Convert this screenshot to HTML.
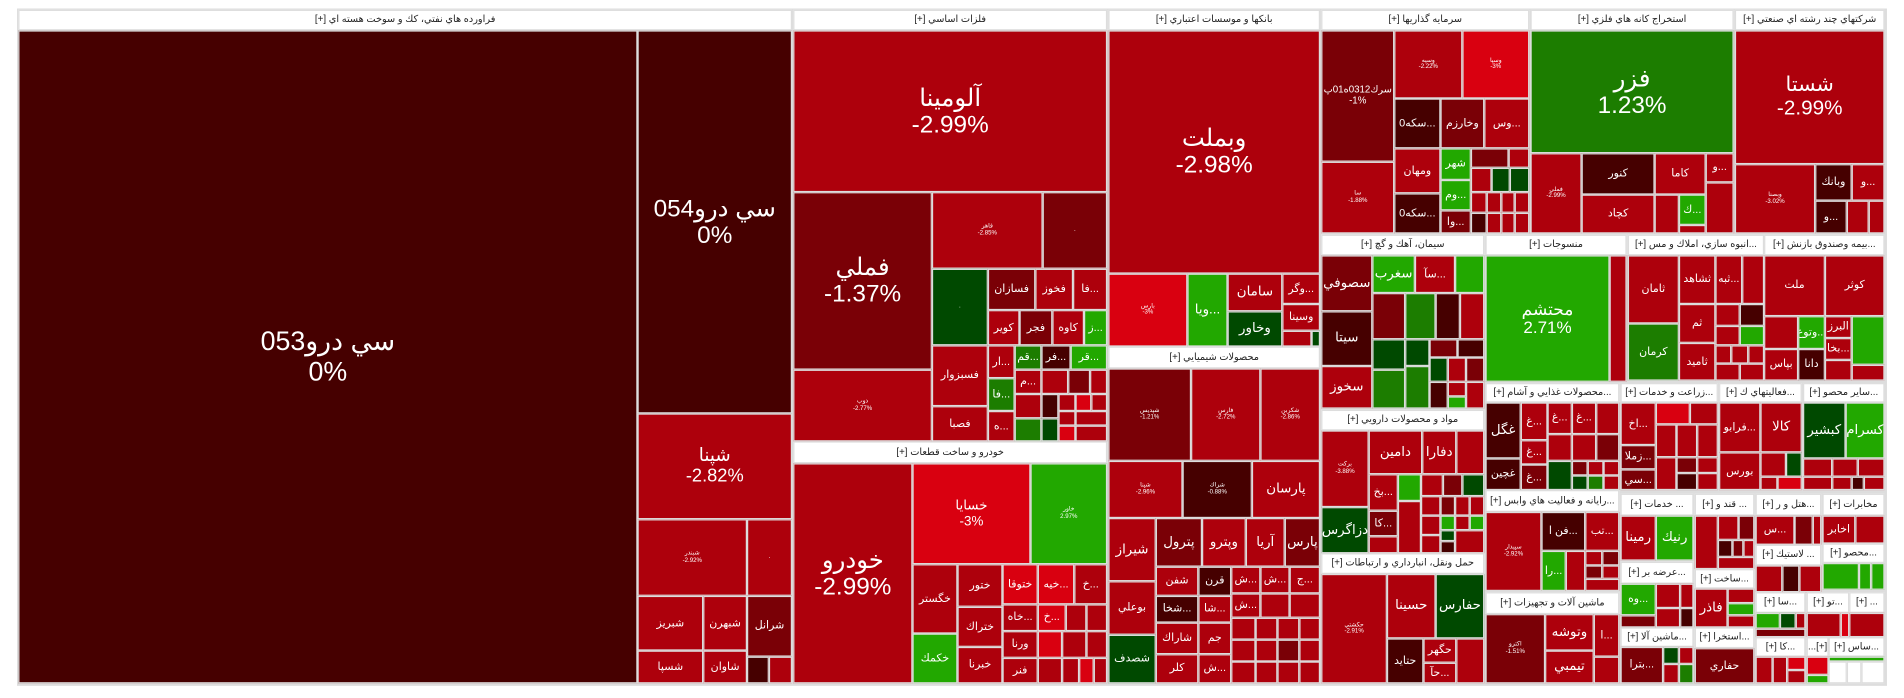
<!DOCTYPE html>
<html><head><meta charset="utf-8">
<style>
html,body{margin:0;padding:0;background:#fff;width:1904px;height:698px;overflow:hidden}
#w{position:absolute;left:0;top:0;width:1565px;height:574px;transform-origin:0 0;transform:scale(1.21661,1.21603)}
#f{position:absolute;left:14px;top:7px;width:1537px;height:557px;background:#ddd}
.x{position:absolute;box-sizing:border-box;border:1px solid #ddd;color:#fff;display:flex;align-items:center;justify-content:center;text-align:center;overflow:hidden;font-family:"Liberation Sans","DejaVu Sans",sans-serif;line-height:1.1;white-space:nowrap;font-size:9px}
.a{background:#460000}.b{background:#7a0006}.c{background:#ad000c}.d{background:#d90010}
.g{background:#22a800}.h{background:#1c7d00}.k{background:#004900}
.w{background:#fff;color:#222;font-size:8px;direction:rtl}
.s{font-size:5px}.m{font-size:11px}.L{font-size:20px}
</style></head><body><div id="w"><div id="f"></div>

<div class="x w" style="left:15px;top:8px;width:636px;height:17px">فراورده هاي نفتي، كك و سوخت هسته اي [+]</div>
<div class="x a" style="left:15px;top:25px;width:509px;height:537px;font-size:22px">سي درو053<br>0%</div>
<div class="x a L" style="left:524px;top:25px;width:127px;height:315px">سي درو054<br>0%</div>
<div class="x c" style="left:524px;top:340px;width:127px;height:87px;font-size:15px">شپنا<br>-2.82%</div>
<div class="x c s" style="left:524px;top:427px;width:90px;height:63px">شبندر<br>-2.92%</div>
<div class="x c s" style="left:614px;top:427px;width:37px;height:63px">.</div>
<div class="x c" style="left:524px;top:490px;width:54px;height:45px">شبريز</div>
<div class="x c" style="left:578px;top:490px;width:36px;height:45px">شبهرن</div>
<div class="x b" style="left:614px;top:490px;width:37px;height:50px">شرانل</div>
<div class="x c" style="left:524px;top:535px;width:54px;height:27px">شسپا</div>
<div class="x c" style="left:578px;top:535px;width:36px;height:27px">شاوان</div>
<div class="x a" style="left:614px;top:540px;width:18px;height:22px"></div>
<div class="x c" style="left:632px;top:540px;width:19px;height:22px"></div>

<div class="x w" style="left:652px;top:8px;width:258px;height:17px">فلزات اساسي [+]</div>
<div class="x c L" style="left:652px;top:25px;width:258px;height:133px">آلومينا<br>-2.99%</div>
<div class="x b L" style="left:652px;top:158px;width:114px;height:146px">فملي<br>-1.37%</div>
<div class="x c s" style="left:652px;top:304px;width:114px;height:59px">ذوب<br>-2.77%</div>
<div class="x c s" style="left:766px;top:158px;width:91px;height:63px">فاهر<br>-2.85%</div>
<div class="x b s" style="left:857px;top:158px;width:53px;height:63px">.</div>
<div class="x k s" style="left:766px;top:221px;width:46px;height:63px">.</div>
<div class="x b" style="left:812px;top:221px;width:39px;height:34px">فسازان</div>
<div class="x c" style="left:851px;top:221px;width:31px;height:34px">فخوز</div>
<div class="x c" style="left:882px;top:221px;width:28px;height:34px">فا...</div>
<div class="x c" style="left:812px;top:255px;width:26px;height:29px">كوير</div>
<div class="x b" style="left:838px;top:255px;width:27px;height:29px">فجر</div>
<div class="x c" style="left:865px;top:255px;width:26px;height:29px">كاوه</div>
<div class="x g" style="left:891px;top:255px;width:19px;height:29px">ز...</div>
<div class="x c" style="left:766px;top:284px;width:46px;height:50px">فسبزوار</div>
<div class="x c" style="left:766px;top:334px;width:46px;height:29px">فصبا</div>
<div class="x c" style="left:812px;top:284px;width:22px;height:27px">ار...</div>
<div class="x h" style="left:812px;top:311px;width:22px;height:27px">فا...</div>
<div class="x c" style="left:812px;top:338px;width:22px;height:25px">ه...</div>
<div class="x h" style="left:834px;top:284px;width:22px;height:20px">قم...</div>
<div class="x a" style="left:856px;top:284px;width:24px;height:20px">فر...</div>
<div class="x g" style="left:880px;top:284px;width:30px;height:20px">قر...</div>
<div class="x c" style="left:834px;top:304px;width:22px;height:20px">م...</div>
<div class="x c" style="left:856px;top:304px;width:22px;height:20px"></div>
<div class="x b" style="left:878px;top:304px;width:18px;height:20px"></div>
<div class="x c" style="left:896px;top:304px;width:14px;height:20px"></div>
<div class="x c" style="left:834px;top:324px;width:22px;height:20px"></div>
<div class="x h" style="left:834px;top:344px;width:22px;height:19px"></div>
<div class="x a" style="left:856px;top:324px;width:14px;height:20px"></div>
<div class="x k" style="left:856px;top:344px;width:14px;height:19px"></div>
<div class="x c" style="left:870px;top:324px;width:14px;height:14px"></div>
<div class="x c" style="left:870px;top:338px;width:14px;height:12px"></div>
<div class="x d" style="left:870px;top:350px;width:14px;height:13px"></div>
<div class="x d" style="left:884px;top:324px;width:13px;height:14px"></div>
<div class="x c" style="left:897px;top:324px;width:13px;height:14px"></div>
<div class="x c" style="left:884px;top:338px;width:26px;height:12px"></div>
<div class="x c" style="left:884px;top:350px;width:26px;height:13px"></div>

<div class="x w" style="left:652px;top:363px;width:258px;height:18px">خودرو و ساخت قطعات [+]</div>
<div class="x c L" style="left:652px;top:381px;width:98px;height:181px">خودرو<br>-2.99%</div>
<div class="x d m" style="left:750px;top:381px;width:97px;height:83px">خسايا<br>-3%</div>
<div class="x g s" style="left:847px;top:381px;width:63px;height:83px">خاور<br>2.97%</div>
<div class="x c" style="left:750px;top:464px;width:37px;height:57px">خگستر</div>
<div class="x g" style="left:750px;top:521px;width:37px;height:41px">خكمك</div>
<div class="x c" style="left:787px;top:464px;width:37px;height:35px">ختور</div>
<div class="x c" style="left:787px;top:499px;width:37px;height:33px">ختراك</div>
<div class="x c" style="left:787px;top:532px;width:37px;height:30px">خبرنا</div>
<div class="x d" style="left:824px;top:464px;width:29px;height:33px">ختوقا</div>
<div class="x c" style="left:824px;top:497px;width:29px;height:22px">خاه...</div>
<div class="x c" style="left:824px;top:519px;width:29px;height:22px">ورنا</div>
<div class="x c" style="left:824px;top:541px;width:29px;height:21px">فنر</div>
<div class="x d" style="left:853px;top:464px;width:30px;height:33px">خيه...</div>
<div class="x c" style="left:883px;top:464px;width:27px;height:33px">خ...</div>
<div class="x d" style="left:853px;top:497px;width:23px;height:22px">خ...</div>
<div class="x c" style="left:876px;top:497px;width:17px;height:22px"></div>
<div class="x c" style="left:893px;top:497px;width:17px;height:22px"></div>
<div class="x d" style="left:853px;top:519px;width:20px;height:22px"></div>
<div class="x c" style="left:873px;top:519px;width:20px;height:22px"></div>
<div class="x c" style="left:893px;top:519px;width:17px;height:22px"></div>
<div class="x c" style="left:853px;top:541px;width:20px;height:21px"></div>
<div class="x c" style="left:873px;top:541px;width:14px;height:21px"></div>
<div class="x d" style="left:887px;top:541px;width:12px;height:21px"></div>
<div class="x c" style="left:899px;top:541px;width:11px;height:21px"></div>

<div class="x w" style="left:911px;top:8px;width:174px;height:17px">بانكها و موسسات اعتباري [+]</div>
<div class="x c L" style="left:911px;top:25px;width:174px;height:200px">وبملت<br>-2.98%</div>
<div class="x d s" style="left:911px;top:225px;width:65px;height:60px">بارس<br>-3%</div>
<div class="x g m" style="left:976px;top:225px;width:33px;height:60px">ويا...</div>
<div class="x c m" style="left:1009px;top:225px;width:45px;height:31px">سامان</div>
<div class="x k m" style="left:1009px;top:256px;width:45px;height:29px">وخاور</div>
<div class="x c" style="left:1054px;top:225px;width:31px;height:25px">وگر...</div>
<div class="x c" style="left:1054px;top:250px;width:31px;height:22px">وسينا</div>
<div class="x c" style="left:1054px;top:272px;width:24px;height:13px"></div>
<div class="x k" style="left:1078px;top:272px;width:7px;height:13px"></div>

<div class="x w" style="left:911px;top:285px;width:174px;height:18px">محصولات شيميايي [+]</div>
<div class="x b s" style="left:911px;top:303px;width:68px;height:76px">شپديس<br>-1.21%</div>
<div class="x c s" style="left:979px;top:303px;width:57px;height:76px">فارس<br>-2.72%</div>
<div class="x c s" style="left:1036px;top:303px;width:49px;height:76px">شكربن<br>-2.86%</div>
<div class="x c s" style="left:911px;top:379px;width:61px;height:47px">شپنا<br>-2.96%</div>
<div class="x a s" style="left:972px;top:379px;width:57px;height:47px">شراك<br>-0.88%</div>
<div class="x c m" style="left:1029px;top:379px;width:56px;height:47px">پارسان</div>
<div class="x c m" style="left:911px;top:426px;width:39px;height:52px">شيراز</div>
<div class="x b m" style="left:950px;top:426px;width:38px;height:40px">پترول</div>
<div class="x c m" style="left:988px;top:426px;width:36px;height:40px">وپترو</div>
<div class="x c m" style="left:1024px;top:426px;width:32px;height:40px">آريا</div>
<div class="x b m" style="left:1056px;top:426px;width:29px;height:40px">پارس</div>
<div class="x c" style="left:911px;top:478px;width:39px;height:44px">بوعلي</div>
<div class="x k" style="left:911px;top:522px;width:39px;height:40px">شصدف</div>
<div class="x c" style="left:950px;top:466px;width:35px;height:24px">شفن</div>
<div class="x a" style="left:950px;top:490px;width:35px;height:22px">شخا...</div>
<div class="x c" style="left:950px;top:512px;width:35px;height:26px">شاراك</div>
<div class="x c" style="left:950px;top:538px;width:35px;height:24px">كلر</div>
<div class="x a" style="left:985px;top:466px;width:27px;height:24px">قرن</div>
<div class="x c" style="left:985px;top:490px;width:27px;height:22px">شا...</div>
<div class="x c" style="left:985px;top:512px;width:27px;height:26px">جم</div>
<div class="x c" style="left:985px;top:538px;width:27px;height:24px">ش...</div>
<div class="x c" style="left:1012px;top:466px;width:24px;height:22px">ش...</div>
<div class="x c" style="left:1036px;top:466px;width:24px;height:22px">ش...</div>
<div class="x c" style="left:1060px;top:466px;width:25px;height:22px">ج...</div>
<div class="x c" style="left:1012px;top:488px;width:24px;height:20px">ش...</div>
<div class="x c" style="left:1036px;top:488px;width:24px;height:20px"></div>
<div class="x c" style="left:1060px;top:488px;width:25px;height:20px"></div>
<div class="x c" style="left:1012px;top:508px;width:20px;height:18px"></div>
<div class="x c" style="left:1032px;top:508px;width:18px;height:18px"></div>
<div class="x c" style="left:1050px;top:508px;width:18px;height:18px"></div>
<div class="x c" style="left:1068px;top:508px;width:17px;height:18px"></div>
<div class="x c" style="left:1012px;top:526px;width:20px;height:18px"></div>
<div class="x c" style="left:1032px;top:526px;width:18px;height:18px"></div>
<div class="x b" style="left:1050px;top:526px;width:18px;height:18px"></div>
<div class="x c" style="left:1068px;top:526px;width:17px;height:18px"></div>
<div class="x c" style="left:1012px;top:544px;width:20px;height:18px"></div>
<div class="x c" style="left:1032px;top:544px;width:18px;height:18px"></div>
<div class="x c" style="left:1050px;top:544px;width:18px;height:18px"></div>
<div class="x c" style="left:1068px;top:544px;width:17px;height:18px"></div>

<div class="x w" style="left:1086px;top:8px;width:171px;height:17px">سرمايه گذاريها [+]</div>
<div class="x b" style="left:1086px;top:25px;width:60px;height:108px;font-size:8px">سرك0312ه01پ<br>-1%</div>
<div class="x c s" style="left:1086px;top:133px;width:60px;height:59px">سا<br>-1.88%</div>
<div class="x c s" style="left:1146px;top:25px;width:56px;height:56px">وسپه<br>-2.22%</div>
<div class="x d s" style="left:1202px;top:25px;width:55px;height:56px">وسپا<br>-3%</div>
<div class="x a" style="left:1146px;top:81px;width:38px;height:41px">سكه0...</div>
<div class="x b" style="left:1184px;top:81px;width:36px;height:41px">وخارزم</div>
<div class="x c" style="left:1220px;top:81px;width:37px;height:41px">وس...</div>
<div class="x c" style="left:1146px;top:122px;width:38px;height:37px">ومهان</div>
<div class="x a" style="left:1146px;top:159px;width:38px;height:33px">سكه0...</div>
<div class="x g" style="left:1184px;top:122px;width:25px;height:26px">شهر</div>
<div class="x g" style="left:1184px;top:148px;width:25px;height:25px">وم...</div>
<div class="x b" style="left:1184px;top:173px;width:25px;height:19px">وا...</div>
<div class="x b" style="left:1209px;top:122px;width:31px;height:16px"></div>
<div class="x c" style="left:1240px;top:122px;width:17px;height:16px"></div>
<div class="x c" style="left:1209px;top:138px;width:17px;height:20px"></div>
<div class="x k" style="left:1226px;top:138px;width:15px;height:20px"></div>
<div class="x k" style="left:1241px;top:138px;width:16px;height:20px"></div>
<div class="x c" style="left:1209px;top:158px;width:13px;height:17px"></div>
<div class="x c" style="left:1222px;top:158px;width:12px;height:17px"></div>
<div class="x c" style="left:1234px;top:158px;width:11px;height:17px"></div>
<div class="x c" style="left:1245px;top:158px;width:12px;height:17px"></div>
<div class="x a" style="left:1209px;top:175px;width:13px;height:17px"></div>
<div class="x c" style="left:1222px;top:175px;width:12px;height:17px"></div>
<div class="x c" style="left:1234px;top:175px;width:11px;height:17px"></div>
<div class="x c" style="left:1245px;top:175px;width:12px;height:17px"></div>

<div class="x w" style="left:1258px;top:8px;width:167px;height:17px">استخراج كانه هاي فلزي [+]</div>
<div class="x h L" style="left:1258px;top:25px;width:167px;height:101px">فزر<br>1.23%</div>
<div class="x c s" style="left:1258px;top:126px;width:42px;height:66px">فملي<br>-2.99%</div>
<div class="x a" style="left:1300px;top:126px;width:60px;height:34px">كنور</div>
<div class="x c" style="left:1300px;top:160px;width:60px;height:32px">كچاد</div>
<div class="x c" style="left:1360px;top:126px;width:42px;height:34px">كاما</div>
<div class="x c" style="left:1402px;top:126px;width:23px;height:24px">و...</div>
<div class="x c" style="left:1360px;top:160px;width:20px;height:32px"></div>
<div class="x g" style="left:1380px;top:160px;width:22px;height:25px">ك...</div>
<div class="x c" style="left:1380px;top:185px;width:22px;height:7px"></div>
<div class="x c" style="left:1402px;top:150px;width:23px;height:42px"></div>

<div class="x w" style="left:1426px;top:8px;width:123px;height:17px">شركتهاي چند رشته اي صنعتي [+]</div>
<div class="x c" style="left:1426px;top:25px;width:123px;height:110px;font-size:17px">شستا<br>-2.99%</div>
<div class="x c s" style="left:1426px;top:135px;width:66px;height:57px">وبصنا<br>-3.02%</div>
<div class="x a" style="left:1492px;top:135px;width:30px;height:30px">وبانك</div>
<div class="x c" style="left:1522px;top:135px;width:27px;height:30px">و...</div>
<div class="x a" style="left:1492px;top:165px;width:26px;height:27px">و...</div>
<div class="x c" style="left:1518px;top:165px;width:18px;height:27px"></div>
<div class="x c" style="left:1536px;top:165px;width:13px;height:27px"></div>

<div class="x w" style="left:1086px;top:193px;width:134px;height:17px">سيمان، آهك و گچ [+]</div>
<div class="x b m" style="left:1086px;top:210px;width:42px;height:46px">سصوفي</div>
<div class="x a m" style="left:1086px;top:256px;width:42px;height:45px">سيتا</div>
<div class="x c m" style="left:1086px;top:301px;width:42px;height:35px">سخوز</div>
<div class="x g m" style="left:1128px;top:210px;width:35px;height:31px">سغرب</div>
<div class="x c" style="left:1163px;top:210px;width:33px;height:31px">سآ...</div>
<div class="x g" style="left:1196px;top:210px;width:24px;height:31px"></div>
<div class="x b" style="left:1128px;top:241px;width:27px;height:38px"></div>
<div class="x h" style="left:1155px;top:241px;width:25px;height:38px"></div>
<div class="x a" style="left:1180px;top:241px;width:20px;height:38px"></div>
<div class="x c" style="left:1200px;top:241px;width:20px;height:38px"></div>
<div class="x k" style="left:1128px;top:279px;width:27px;height:25px"></div>
<div class="x h" style="left:1128px;top:304px;width:27px;height:32px"></div>
<div class="x k" style="left:1155px;top:279px;width:20px;height:22px"></div>
<div class="x h" style="left:1155px;top:301px;width:20px;height:35px"></div>
<div class="x b" style="left:1175px;top:279px;width:23px;height:15px"></div>
<div class="x a" style="left:1198px;top:279px;width:22px;height:15px"></div>
<div class="x k" style="left:1175px;top:294px;width:15px;height:20px"></div>
<div class="x c" style="left:1190px;top:294px;width:15px;height:20px"></div>
<div class="x b" style="left:1205px;top:294px;width:15px;height:20px"></div>
<div class="x a" style="left:1175px;top:314px;width:15px;height:22px"></div>
<div class="x c" style="left:1190px;top:314px;width:15px;height:12px"></div>
<div class="x g" style="left:1190px;top:326px;width:15px;height:10px"></div>
<div class="x c" style="left:1205px;top:314px;width:15px;height:22px"></div>

<div class="x w" style="left:1086px;top:337px;width:134px;height:17px">مواد و محصولات دارويي [+]</div>
<div class="x c s" style="left:1086px;top:354px;width:39px;height:63px">بركت<br>-3.88%</div>
<div class="x k m" style="left:1086px;top:417px;width:39px;height:38px">دزاگرس</div>
<div class="x c m" style="left:1125px;top:354px;width:44px;height:36px">دامين</div>
<div class="x c m" style="left:1169px;top:354px;width:28px;height:36px">دفارا</div>
<div class="x c" style="left:1197px;top:354px;width:23px;height:36px"></div>
<div class="x c" style="left:1125px;top:390px;width:24px;height:30px">بخ...</div>
<div class="x g" style="left:1149px;top:390px;width:19px;height:22px"></div>
<div class="x c" style="left:1149px;top:412px;width:19px;height:43px"></div>
<div class="x b" style="left:1125px;top:420px;width:24px;height:21px">كا...</div>
<div class="x c" style="left:1125px;top:441px;width:24px;height:14px"></div>
<div class="x c" style="left:1168px;top:390px;width:18px;height:18px"></div>
<div class="x b" style="left:1186px;top:390px;width:16px;height:18px"></div>
<div class="x k" style="left:1202px;top:390px;width:18px;height:18px"></div>
<div class="x c" style="left:1168px;top:408px;width:16px;height:16px"></div>
<div class="x b" style="left:1184px;top:408px;width:12px;height:16px"></div>
<div class="x c" style="left:1196px;top:408px;width:12px;height:16px"></div>
<div class="x c" style="left:1208px;top:408px;width:12px;height:16px"></div>
<div class="x c" style="left:1168px;top:424px;width:16px;height:16px"></div>
<div class="x g" style="left:1184px;top:424px;width:12px;height:12px"></div>
<div class="x k" style="left:1184px;top:436px;width:12px;height:9px"></div>
<div class="x c" style="left:1196px;top:424px;width:12px;height:12px"></div>
<div class="x g" style="left:1208px;top:424px;width:12px;height:12px"></div>
<div class="x c" style="left:1168px;top:440px;width:16px;height:15px"></div>
<div class="x a" style="left:1184px;top:445px;width:12px;height:10px"></div>
<div class="x c" style="left:1196px;top:436px;width:24px;height:19px"></div>

<div class="x w" style="left:1086px;top:455px;width:134px;height:17px">حمل ونقل، انبارداري و ارتباطات [+]</div>
<div class="x c s" style="left:1086px;top:472px;width:54px;height:90px">حكشتي<br>-2.91%</div>
<div class="x c m" style="left:1140px;top:472px;width:40px;height:53px">حسينا</div>
<div class="x k m" style="left:1180px;top:472px;width:40px;height:53px">حفارس</div>
<div class="x a" style="left:1140px;top:525px;width:30px;height:37px">حتايد</div>
<div class="x c" style="left:1170px;top:525px;width:27px;height:20px">حگهر</div>
<div class="x c" style="left:1170px;top:545px;width:27px;height:17px">حآ...</div>
<div class="x c" style="left:1197px;top:525px;width:23px;height:37px"></div>

<div class="x w" style="left:1221px;top:193px;width:116px;height:17px">منسوجات [+]</div>
<div class="x g" style="left:1221px;top:210px;width:102px;height:104px;font-size:14px">محتشم<br>2.71%</div>
<div class="x c" style="left:1323px;top:210px;width:14px;height:104px"></div>

<div class="x w" style="left:1221px;top:315px;width:110px;height:16px">...محصولات غذايي و آشام [+]</div>
<div class="x a m" style="left:1221px;top:331px;width:29px;height:46px">غگل</div>
<div class="x a" style="left:1221px;top:377px;width:29px;height:26px">غچين</div>
<div class="x c" style="left:1250px;top:331px;width:22px;height:31px">غ...</div>
<div class="x c" style="left:1250px;top:362px;width:22px;height:20px">غ...</div>
<div class="x b" style="left:1250px;top:382px;width:22px;height:21px">غ...</div>
<div class="x c" style="left:1272px;top:331px;width:20px;height:26px">غ...</div>
<div class="x c" style="left:1292px;top:331px;width:20px;height:26px">غ...</div>
<div class="x c" style="left:1312px;top:331px;width:19px;height:26px"></div>
<div class="x c" style="left:1272px;top:357px;width:20px;height:22px"></div>
<div class="x c" style="left:1292px;top:357px;width:20px;height:22px"></div>
<div class="x b" style="left:1312px;top:357px;width:19px;height:22px"></div>
<div class="x k" style="left:1272px;top:379px;width:20px;height:24px"></div>
<div class="x b" style="left:1292px;top:379px;width:13px;height:12px"></div>
<div class="x c" style="left:1305px;top:379px;width:13px;height:12px"></div>
<div class="x c" style="left:1318px;top:379px;width:13px;height:12px"></div>
<div class="x k" style="left:1292px;top:391px;width:13px;height:12px"></div>
<div class="x h" style="left:1305px;top:391px;width:13px;height:12px"></div>
<div class="x c" style="left:1318px;top:391px;width:13px;height:12px"></div>

<div class="x w" style="left:1221px;top:403px;width:110px;height:18px">...رايانه و فعاليت هاي وابس [+]</div>
<div class="x c s" style="left:1221px;top:421px;width:46px;height:65px">سپيدار<br>-2.92%</div>
<div class="x a" style="left:1267px;top:421px;width:36px;height:32px">فن ا...</div>
<div class="x c" style="left:1303px;top:421px;width:28px;height:32px">تب...</div>
<div class="x g" style="left:1267px;top:453px;width:20px;height:33px">را...</div>
<div class="x c" style="left:1287px;top:453px;width:16px;height:33px"></div>
<div class="x c" style="left:1303px;top:453px;width:14px;height:12px"></div>
<div class="x b" style="left:1317px;top:453px;width:14px;height:12px"></div>
<div class="x b" style="left:1303px;top:465px;width:14px;height:11px"></div>
<div class="x c" style="left:1317px;top:465px;width:14px;height:11px"></div>
<div class="x c" style="left:1303px;top:476px;width:28px;height:10px"></div>

<div class="x w" style="left:1221px;top:487px;width:110px;height:18px">ماشين آلات و تجهيزات [+]</div>
<div class="x b s" style="left:1221px;top:505px;width:49px;height:57px">اكترو<br>-1.51%</div>
<div class="x c m" style="left:1270px;top:505px;width:40px;height:30px">وتوشه</div>
<div class="x c m" style="left:1270px;top:535px;width:40px;height:27px">تيمبي</div>
<div class="x c" style="left:1310px;top:505px;width:21px;height:35px">ا...</div>
<div class="x c" style="left:1310px;top:540px;width:21px;height:22px"></div>

<div class="x w" style="left:1338px;top:193px;width:112px;height:17px">...انبوه سازي، املاك و مس [+]</div>
<div class="x c" style="left:1338px;top:210px;width:42px;height:56px">ثامان</div>
<div class="x h" style="left:1338px;top:266px;width:42px;height:47px">كرمان</div>
<div class="x c" style="left:1380px;top:210px;width:30px;height:40px">ثشاهد</div>
<div class="x c" style="left:1410px;top:210px;width:22px;height:40px">ثبه...</div>
<div class="x c" style="left:1432px;top:210px;width:18px;height:40px"></div>
<div class="x c" style="left:1380px;top:250px;width:30px;height:32px">ثم</div>
<div class="x c" style="left:1380px;top:282px;width:30px;height:31px">ثاميد</div>
<div class="x c" style="left:1410px;top:250px;width:20px;height:18px"></div>
<div class="x a" style="left:1430px;top:250px;width:20px;height:18px"></div>
<div class="x c" style="left:1410px;top:268px;width:20px;height:16px"></div>
<div class="x g" style="left:1430px;top:268px;width:20px;height:16px"></div>
<div class="x c" style="left:1410px;top:284px;width:13px;height:15px"></div>
<div class="x c" style="left:1423px;top:284px;width:14px;height:15px"></div>
<div class="x c" style="left:1437px;top:284px;width:13px;height:15px"></div>
<div class="x c" style="left:1410px;top:299px;width:20px;height:14px"></div>
<div class="x c" style="left:1430px;top:299px;width:20px;height:14px"></div>

<div class="x w" style="left:1450px;top:193px;width:99px;height:17px">...بيمه وصندوق بازنش [+]</div>
<div class="x c" style="left:1450px;top:210px;width:50px;height:50px">ملت</div>
<div class="x c" style="left:1500px;top:210px;width:49px;height:50px">كوثر</div>
<div class="x c" style="left:1450px;top:260px;width:28px;height:27px"></div>
<div class="x g" style="left:1478px;top:260px;width:22px;height:27px">وتوع...</div>
<div class="x c" style="left:1500px;top:260px;width:22px;height:18px">البرز</div>
<div class="x c" style="left:1500px;top:278px;width:22px;height:18px">بخا...</div>
<div class="x g" style="left:1522px;top:260px;width:27px;height:40px"></div>
<div class="x c" style="left:1450px;top:287px;width:28px;height:26px">بپاس</div>
<div class="x a" style="left:1478px;top:287px;width:22px;height:26px">دانا</div>
<div class="x c" style="left:1500px;top:296px;width:22px;height:17px"></div>
<div class="x c" style="left:1522px;top:300px;width:27px;height:13px"></div>

<div class="x w" style="left:1332px;top:315px;width:80px;height:16px">...زراعت و خدمات [+]</div>
<div class="x c" style="left:1332px;top:331px;width:29px;height:35px">اخ...</div>
<div class="x b" style="left:1332px;top:366px;width:29px;height:20px">زملا...</div>
<div class="x b" style="left:1332px;top:386px;width:29px;height:17px">سي...</div>
<div class="x d" style="left:1361px;top:331px;width:28px;height:18px"></div>
<div class="x c" style="left:1389px;top:331px;width:23px;height:18px"></div>
<div class="x c" style="left:1361px;top:349px;width:17px;height:27px"></div>
<div class="x c" style="left:1378px;top:349px;width:17px;height:27px"></div>
<div class="x c" style="left:1395px;top:349px;width:17px;height:27px"></div>
<div class="x c" style="left:1361px;top:376px;width:17px;height:27px"></div>
<div class="x b" style="left:1378px;top:376px;width:17px;height:13px"></div>
<div class="x c" style="left:1395px;top:376px;width:17px;height:13px"></div>
<div class="x a" style="left:1378px;top:389px;width:17px;height:14px"></div>
<div class="x c" style="left:1395px;top:389px;width:17px;height:14px"></div>

<div class="x w" style="left:1413px;top:315px;width:68px;height:16px">...فعاليتهاي ك [+]</div>
<div class="x c" style="left:1413px;top:331px;width:34px;height:41px">فرابو...</div>
<div class="x c m" style="left:1447px;top:331px;width:34px;height:41px">كالا</div>
<div class="x c" style="left:1413px;top:372px;width:34px;height:31px">بورس</div>
<div class="x c" style="left:1447px;top:372px;width:21px;height:20px"></div>
<div class="x k" style="left:1468px;top:372px;width:13px;height:20px"></div>
<div class="x c" style="left:1447px;top:392px;width:14px;height:11px"></div>
<div class="x d" style="left:1461px;top:392px;width:20px;height:11px"></div>

<div class="x w" style="left:1482px;top:315px;width:67px;height:16px">...ساير محصو [+]</div>
<div class="x k m" style="left:1482px;top:331px;width:35px;height:46px">كبشير</div>
<div class="x g m" style="left:1517px;top:331px;width:32px;height:46px">كسرام</div>
<div class="x c" style="left:1482px;top:377px;width:24px;height:15px"></div>
<div class="x c" style="left:1506px;top:377px;width:21px;height:15px"></div>
<div class="x c" style="left:1527px;top:377px;width:22px;height:15px"></div>
<div class="x c" style="left:1482px;top:392px;width:24px;height:11px"></div>
<div class="x c" style="left:1506px;top:392px;width:16px;height:11px"></div>
<div class="x a" style="left:1522px;top:392px;width:10px;height:11px"></div>
<div class="x c" style="left:1532px;top:392px;width:17px;height:11px"></div>

<div class="x w" style="left:1332px;top:406px;width:60px;height:18px">... خدمات [+]</div>
<div class="x c m" style="left:1332px;top:424px;width:29px;height:37px">رمينا</div>
<div class="x g m" style="left:1361px;top:424px;width:31px;height:37px">رنيك</div>
<div class="x w" style="left:1332px;top:462px;width:60px;height:18px">...عرضه بر [+]</div>
<div class="x g" style="left:1332px;top:480px;width:29px;height:26px">وه...</div>
<div class="x b" style="left:1332px;top:506px;width:29px;height:10px"></div>
<div class="x c" style="left:1361px;top:480px;width:20px;height:20px"></div>
<div class="x c" style="left:1381px;top:480px;width:11px;height:20px"></div>
<div class="x c" style="left:1361px;top:500px;width:20px;height:16px"></div>
<div class="x a" style="left:1381px;top:500px;width:11px;height:16px"></div>
<div class="x w" style="left:1332px;top:516px;width:60px;height:16px">...ماشين آلا [+]</div>
<div class="x b" style="left:1332px;top:532px;width:35px;height:30px">بترا...</div>
<div class="x k" style="left:1367px;top:532px;width:13px;height:14px"></div>
<div class="x c" style="left:1380px;top:532px;width:12px;height:14px"></div>
<div class="x c" style="left:1367px;top:546px;width:13px;height:16px"></div>
<div class="x h" style="left:1380px;top:546px;width:12px;height:16px"></div>

<div class="x w" style="left:1393px;top:406px;width:49px;height:18px">... قند و [+]</div>
<div class="x c" style="left:1393px;top:424px;width:19px;height:44px"></div>
<div class="x c" style="left:1412px;top:424px;width:17px;height:20px"></div>
<div class="x b" style="left:1429px;top:424px;width:13px;height:20px"></div>
<div class="x a" style="left:1412px;top:444px;width:12px;height:14px"></div>
<div class="x b" style="left:1424px;top:444px;width:9px;height:14px"></div>
<div class="x c" style="left:1433px;top:444px;width:9px;height:14px"></div>
<div class="x c" style="left:1412px;top:458px;width:30px;height:10px"></div>
<div class="x w" style="left:1393px;top:468px;width:49px;height:16px">...ساخت [+]</div>
<div class="x c m" style="left:1393px;top:484px;width:27px;height:32px">فاذر</div>
<div class="x c" style="left:1420px;top:484px;width:22px;height:12px"></div>
<div class="x g" style="left:1420px;top:496px;width:22px;height:10px"></div>
<div class="x c" style="left:1420px;top:506px;width:22px;height:10px"></div>
<div class="x w" style="left:1393px;top:516px;width:49px;height:17px">...استخرا [+]</div>
<div class="x b" style="left:1393px;top:533px;width:49px;height:29px">حفاري</div>

<div class="x w" style="left:1443px;top:406px;width:54px;height:18px">...هتل و ر [+]</div>
<div class="x c" style="left:1443px;top:424px;width:32px;height:24px">س...</div>
<div class="x b" style="left:1475px;top:424px;width:15px;height:24px"></div>
<div class="x c" style="left:1490px;top:424px;width:7px;height:24px"></div>
<div class="x w" style="left:1443px;top:448px;width:54px;height:17px">... لاستيك [+]</div>
<div class="x c" style="left:1443px;top:465px;width:22px;height:22px"></div>
<div class="x a" style="left:1465px;top:465px;width:14px;height:22px"></div>
<div class="x c" style="left:1479px;top:465px;width:18px;height:22px"></div>
<div class="x w" style="left:1443px;top:487px;width:41px;height:17px">...سا [+]</div>
<div class="x g" style="left:1443px;top:504px;width:20px;height:13px"></div>
<div class="x k" style="left:1463px;top:504px;width:13px;height:13px"></div>
<div class="x c" style="left:1476px;top:504px;width:8px;height:13px"></div>
<div class="x b" style="left:1443px;top:517px;width:41px;height:7px"></div>
<div class="x w" style="left:1443px;top:524px;width:41px;height:16px">...كا [+]</div>
<div class="x c" style="left:1443px;top:540px;width:14px;height:22px"></div>
<div class="x c" style="left:1457px;top:540px;width:12px;height:22px"></div>
<div class="x d" style="left:1469px;top:540px;width:15px;height:11px"></div>
<div class="x c" style="left:1469px;top:551px;width:15px;height:11px"></div>

<div class="x w" style="left:1498px;top:406px;width:51px;height:18px">مخابرات [+]</div>
<div class="x c" style="left:1498px;top:424px;width:27px;height:23px">اخابر</div>
<div class="x c" style="left:1525px;top:424px;width:24px;height:23px"></div>
<div class="x w" style="left:1498px;top:447px;width:51px;height:16px">...محصو [+]</div>
<div class="x g" style="left:1498px;top:463px;width:30px;height:22px"></div>
<div class="x g" style="left:1528px;top:463px;width:10px;height:22px"></div>
<div class="x g" style="left:1538px;top:463px;width:11px;height:22px"></div>
<div class="x w" style="left:1485px;top:487px;width:35px;height:17px">...تو [+]</div>
<div class="x c" style="left:1485px;top:504px;width:28px;height:20px"></div>
<div class="x d" style="left:1513px;top:504px;width:7px;height:20px"></div>
<div class="x w" style="left:1520px;top:487px;width:29px;height:17px">... [+]</div>
<div class="x c" style="left:1520px;top:504px;width:29px;height:20px"></div>
<div class="x w" style="left:1485px;top:524px;width:18px;height:16px">[+]...</div>
<div class="x d" style="left:1485px;top:540px;width:18px;height:15px"></div>
<div class="x g" style="left:1485px;top:555px;width:18px;height:7px"></div>
<div class="x w" style="left:1503px;top:524px;width:46px;height:16px">...ساس [+]</div>
<div class="x g" style="left:1503px;top:540px;width:46px;height:4px"></div>
<div class="x w" style="left:1503px;top:544px;width:15px;height:18px"></div>
<div class="x w" style="left:1518px;top:544px;width:12px;height:18px"></div>
<div class="x w" style="left:1530px;top:544px;width:19px;height:18px"></div>
</div></body></html>
